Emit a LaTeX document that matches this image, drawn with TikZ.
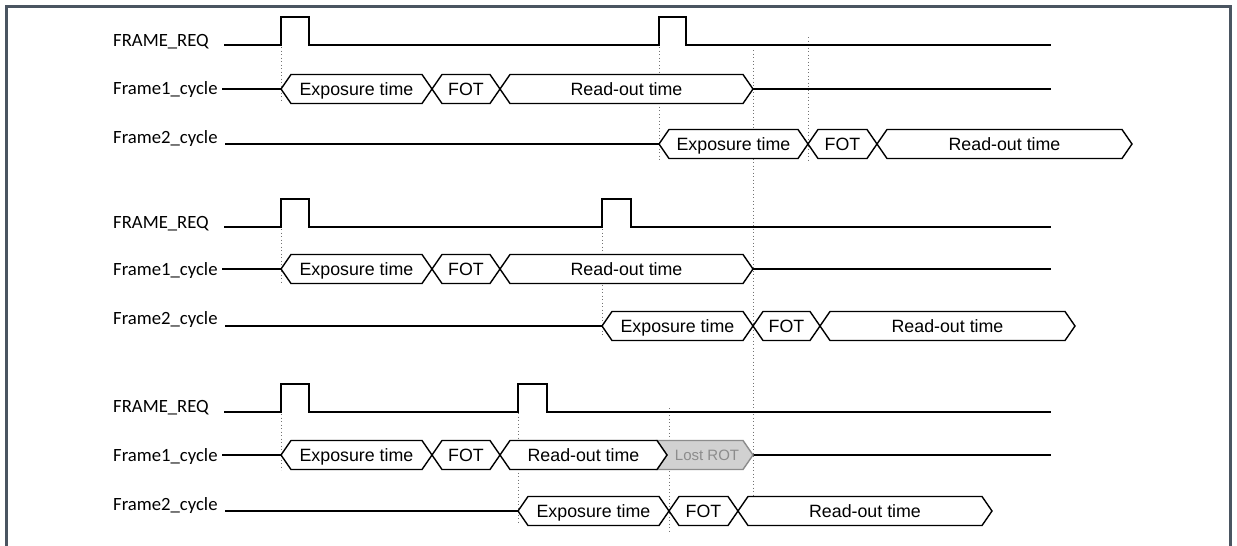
\documentclass[tikz,border=0pt]{standalone}
\usepackage{fontspec}
\setmainfont{Liberation Sans}
\newfontfamily\lblfont{Carlito}
\newfontfamily\busfont{Liberation Sans}
\begin{document}
\begin{tikzpicture}[x=1pt,y=-1pt,
  sig/.style={line width=1.6pt,line join=miter},
  busbox/.style={draw=black,fill=white,line width=1.4pt,line join=miter},
  lostbox/.style={draw=black!45,fill=black!18,line width=1.4pt,line join=miter},
  guide/.style={draw=black!55,line width=0.8pt,dash pattern=on 0.9pt off 2.6pt},
  lbl/.style={anchor=base west,inner sep=0pt,font=\lblfont\fontsize{18.7}{20}\selectfont},
  bustxt/.style={anchor=base,inner sep=0pt,font=\busfont\fontsize{17.8}{20}\selectfont},
  losttxt/.style={anchor=base,inner sep=0pt,text=black!45,font=\busfont\fontsize{15}{17}\selectfont},
  frame/.style={line width=3pt}
]
\useasboundingbox (0,0) rectangle (1237,546);
\fill[white] (0,0) rectangle (1237,546);
% frame
\draw[frame,draw={rgb,255:red,74;green,85;blue,97}] (6,560) -- (6,6.5) -- (1230,6.5) -- (1230,560);

% hexagonal bus box: #1 x1, #2 x2, #3 yc, #4 text, #5 node name
\newcommand{\tbus}[5]{%
  \draw[busbox] (#1,#3) -- ({#1+10},{#3-14.5}) -- ({#2-10},{#3-14.5}) -- (#2,#3) -- ({#2-10},{#3+14.5}) -- ({#1+10},{#3+14.5}) -- cycle;
  \node[bustxt] (#5) at ({(#1+#2)/2},{#3+6.3}) {#4};}

% ---------------- guides (drawn first) ----------------
\draw[guide] (281,47) -- (281,101);
\draw[guide] (659,47) -- (659,160);
\draw[guide] (753,50) -- (753,500);
\draw[guide] (808,37) -- (808,160);
\draw[guide] (281,229) -- (281,283);
\draw[guide] (602,229) -- (602,336);
\draw[guide] (281,414) -- (281,470);
\draw[guide] (518,413) -- (518,524);
\draw[guide] (669,408) -- (669,531);

% ---------------- panel 1 ----------------
\node[lbl] (reqA) at (113,46.5) {FRAME\_REQ};
\node[lbl] (fa1) at (113,94.5) {Frame1\_cycle};
\node[lbl] (fa2) at (113,143) {Frame2\_cycle};
\draw[sig] (224,45) -- (281,45) -- (281,17) -- (309,17) -- (309,45) -- (659,45) -- (659,17) -- (686,17) -- (686,45) -- (1051,45);
\draw[sig] (222,89) -- (281,89);
\draw[sig] (753,89) -- (1051,89);
\tbus{281}{432}{89}{Exposure time}{a1e}
\tbus{432}{500}{89}{FOT}{a1f}
\tbus{500}{753}{89}{Read-out time}{a1r}
\draw[sig] (225,144) -- (659,144);
\tbus{659}{808}{144}{Exposure time}{a2e}
\tbus{808}{877}{144}{FOT}{a2f}
\tbus{877}{1132}{144}{Read-out time}{a2r}

% ---------------- panel 2 ----------------
\node[lbl] (reqB) at (113,228) {FRAME\_REQ};
\node[lbl] (fb1) at (113,275.5) {Frame1\_cycle};
\node[lbl] (fb2) at (113,324) {Frame2\_cycle};
\draw[sig] (224,227) -- (281,227) -- (281,199) -- (309,199) -- (309,227) -- (602,227) -- (602,199) -- (631,199) -- (631,227) -- (1051,227);
\draw[sig] (222,269) -- (281,269);
\draw[sig] (753,269) -- (1051,269);
\tbus{281}{432}{269}{Exposure time}{b1e}
\tbus{432}{500}{269}{FOT}{b1f}
\tbus{500}{753}{269}{Read-out time}{b1r}
\draw[sig] (225,326) -- (602,326);
\tbus{602}{753}{326}{Exposure time}{b2e}
\tbus{753}{820}{326}{FOT}{b2f}
\tbus{820}{1075}{326}{Read-out time}{b2r}

% ---------------- panel 3 ----------------
\node[lbl] (reqC) at (113,412.5) {FRAME\_REQ};
\node[lbl] (fc1) at (113,461) {Frame1\_cycle};
\node[lbl] (fc2) at (113,510) {Frame2\_cycle};
\draw[sig] (224,412) -- (281,412) -- (281,384) -- (309,384) -- (309,412) -- (518,412) -- (518,384) -- (547,384) -- (547,412) -- (1051,412);
\draw[sig] (222,455) -- (281,455);
\draw[sig] (753,455) -- (1051,455);
\draw[lostbox] (657,440.5) -- (743,440.5) -- (753,455) -- (743,469.5) -- (657,469.5) -- (667,455) -- cycle;
\node[losttxt] (c1l) at (707,460.4) {Lost ROT};
\tbus{281}{432}{455}{Exposure time}{c1e}
\tbus{432}{500}{455}{FOT}{c1f}
\tbus{500}{667}{455}{Read-out time}{c1r}
\draw[sig] (225,511) -- (518,511);
\tbus{518}{669}{511}{Exposure time}{c2e}
\tbus{669}{738}{511}{FOT}{c2f}
\tbus{738}{992}{511}{Read-out time}{c2r}
\end{tikzpicture}
\end{document}
